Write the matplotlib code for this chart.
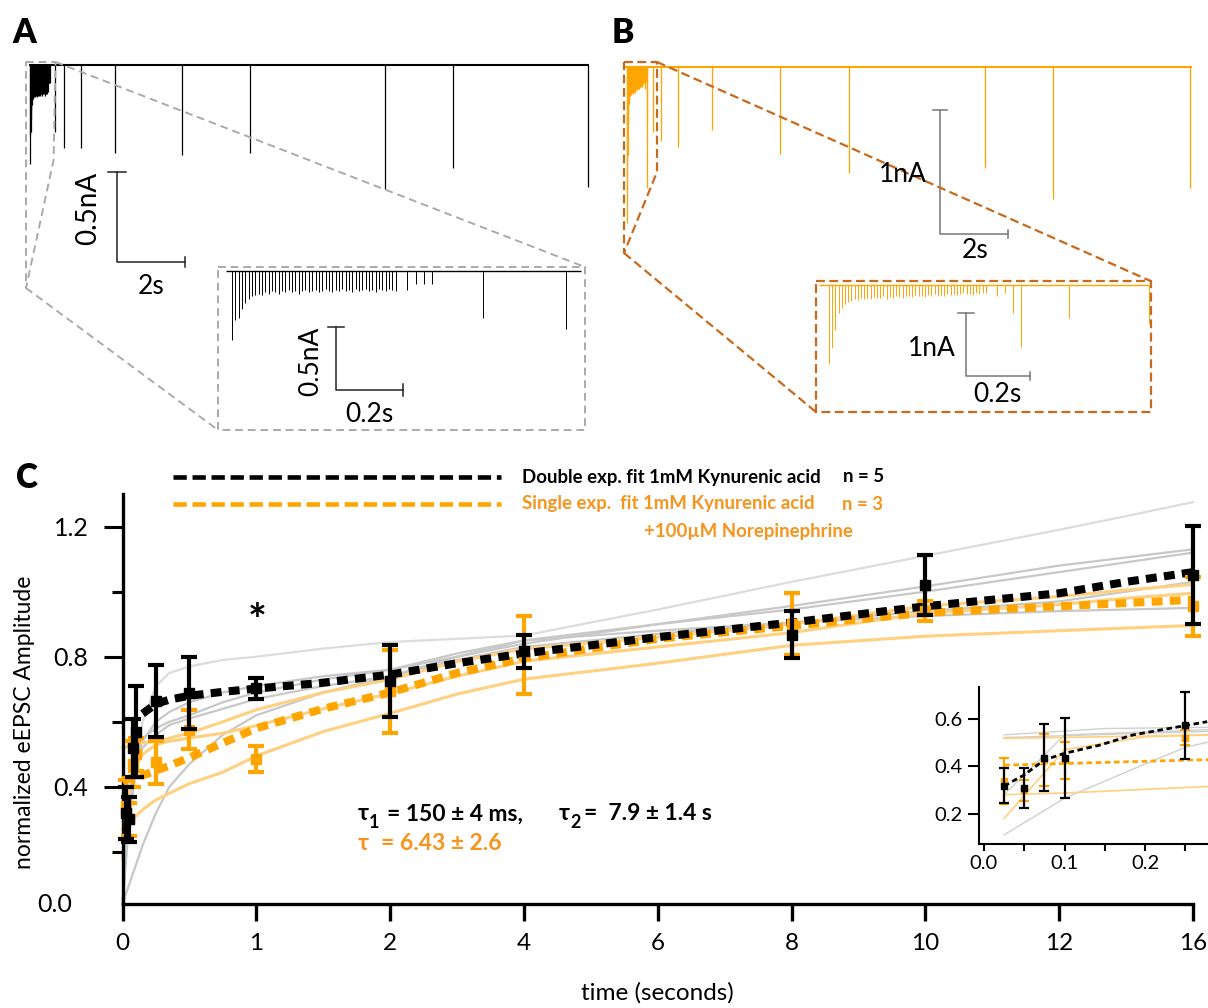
import numpy as np
import matplotlib
matplotlib.use('Agg')
import matplotlib.pyplot as plt
from matplotlib.lines import Line2D
from matplotlib.patches import Rectangle

plt.rcParams['font.family'] = ['Lato', 'DejaVu Sans']

# ---------------- data ----------------
TRAIN_HZ = 100
test_delay = [0.025, 0.05, 0.075, 0.1, 0.25, 0.5, 1, 2, 4, 6, 10, 12, 16]

# panel A, kynurenic acid (nA)
kyn_train_amp = [0.55, 0.39, 0.37, 0.30, 0.25, 0.22, 0.20, 0.19, 0.18, 0.19,
                 0.17, 0.18, 0.16, 0.17, 0.18, 0.16, 0.17, 0.15, 0.17, 0.16,
                 0.18, 0.16, 0.15, 0.17, 0.16, 0.15, 0.17, 0.16, 0.14, 0.16,
                 0.17, 0.15, 0.16, 0.14, 0.16, 0.15, 0.17, 0.14, 0.16, 0.15,
                 0.14, 0.16, 0.15, 0.17, 0.14, 0.15, 0.16, 0.14, 0.15, 0.16]
kyn_test_amp = [0.15, 0.10, 0.10, 0.10, 0.37, 0.46, 0.46, 0.49, 0.50, 0.49, 0.69, 0.57, 0.68]

# panel B, kynurenic acid + norepinephrine (nA)
ne_train_amp = [1.26, 1.00, 0.71, 0.45, 0.36, 0.30, 0.27, 0.25, 0.23, 0.24,
                0.21, 0.22, 0.20, 0.23, 0.19, 0.21, 0.20, 0.18, 0.22, 0.19,
                0.20, 0.17, 0.19, 0.21, 0.18, 0.17, 0.19, 0.16, 0.18, 0.17,
                0.19, 0.16, 0.18, 0.15, 0.17, 0.16, 0.18, 0.15, 0.16, 0.14,
                0.16, 0.15, 0.13, 0.15, 0.14, 0.16, 0.13, 0.14, 0.12, 0.13]
ne_test_amp = [0.18, 0.12, 0.45, 0.98, 0.53, 0.60, 0.65, 0.51, 0.70, 0.86, 0.82, 1.07, 0.98]

# panel C, recovery (normalized)
t_pts = [0.025, 0.05, 0.075, 0.1, 0.25, 0.5, 1, 2, 4, 8, 10, 16]
kyn_mean = [0.32, 0.30, 0.52, 0.57, 0.664, 0.689, 0.703, 0.725, 0.816, 0.868, 1.021, 1.052]
kyn_sem = [0.08, 0.07, 0.09, 0.14, 0.11, 0.11, 0.033, 0.11, 0.051, 0.072, 0.092, 0.15]
ne_mean = [0.33, 0.30, 0.47, 0.50, 0.475, 0.575, 0.485, 0.694, 0.805, 0.90, 0.94, 0.955]
ne_sem = [0.09, 0.05, 0.07, 0.05, 0.065, 0.06, 0.04, 0.128, 0.12, 0.096, 0.03, 0.09]

fit_t_kyn = [0.15, 0.25, 0.35, 0.5, 0.75, 1, 1.5, 2, 3, 4, 6, 8, 10, 12, 14, 16]
fit_kyn = [0.625, 0.655, 0.668, 0.68, 0.692, 0.702, 0.72, 0.745, 0.78, 0.81,
           0.86, 0.905, 0.955, 0.995, 1.03, 1.06]
fit_t_ne = [0, 0.1, 0.15, 0.25, 0.35, 0.5, 0.75, 1, 1.5, 2, 3, 4, 6, 8, 10, 12, 14, 16]
fit_ne = [0.42, 0.43, 0.435, 0.45, 0.465, 0.49, 0.535, 0.58, 0.64, 0.69, 0.75,
          0.795, 0.855, 0.895, 0.935, 0.955, 0.965, 0.975]

cell_t = [0, 0.05, 0.1, 0.15, 0.25, 0.35, 0.5, 0.75, 1, 1.5, 2, 3, 4, 6, 8, 10, 12, 14, 16]
kyn_cell1 = [0.04, 0.30, 0.48, 0.60, 0.71, 0.75, 0.77, 0.79, 0.80, 0.825, 0.845, 0.855, 0.865, 0.945, 1.03, 1.11, 1.19, 1.232, 1.275]
kyn_cell2 = [0.04, 0.35, 0.48, 0.54, 0.60, 0.63, 0.66, 0.69, 0.71, 0.74, 0.76, 0.80, 0.84, 0.90, 0.956, 1.016, 1.08, 1.105, 1.13]
kyn_cell3 = [0.04, 0.40, 0.50, 0.55, 0.58, 0.60, 0.62, 0.66, 0.69, 0.73, 0.76, 0.81, 0.85, 0.90, 0.945, 1.00, 1.06, 1.09, 1.12]
kyn_cell4 = [0.04, 0.30, 0.45, 0.52, 0.56, 0.59, 0.61, 0.64, 0.67, 0.71, 0.74, 0.79, 0.83, 0.87, 0.905, 0.94, 0.97, 1.0, 1.03]
kyn_cell5 = [0.04, 0.10, 0.16, 0.22, 0.32, 0.40, 0.47, 0.56, 0.62, 0.69, 0.74, 0.80, 0.85, 0.88, 0.905, 0.925, 0.94, 0.945, 0.95]
ne_cell1 = [0.52, 0.525, 0.53, 0.535, 0.54, 0.55, 0.565, 0.60, 0.637, 0.69, 0.73, 0.785, 0.824, 0.86, 0.90, 0.956, 0.985, 1.005, 1.022]
ne_cell2 = [0.18, 0.40, 0.47, 0.50, 0.53, 0.54, 0.55, 0.565, 0.588, 0.64, 0.687, 0.74, 0.786, 0.83, 0.874, 0.934, 0.96, 0.98, 0.995]
ne_cell3 = [0.27, 0.29, 0.31, 0.33, 0.36, 0.38, 0.41, 0.445, 0.495, 0.57, 0.626, 0.685, 0.731, 0.78, 0.835, 0.863, 0.88, 0.888, 0.896]

# inset of C (first 0.28 s)
ins_t = [0.025, 0.05, 0.075, 0.1, 0.25]
ins_kyn = [0.318, 0.308, 0.437, 0.435, 0.573]
ins_kyn_sem = [0.074, 0.083, 0.141, 0.17, 0.143]
ins_ne = [0.338, 0.298, 0.427, 0.425, 0.522]
ins_ne_sem = [0.096, 0.043, 0.11, 0.08, 0.032]
ins_fit_t_kyn = [0.025, 0.05, 0.075, 0.1, 0.144, 0.185, 0.249, 0.277]
ins_fit_kyn = [0.317, 0.364, 0.427, 0.455, 0.49, 0.533, 0.572, 0.589]
ins_fit_t_ne = [0.025, 0.1, 0.25, 0.28]
ins_fit_ne = [0.405, 0.412, 0.426, 0.428]
ins_gray = [([0.025, 0.15, 0.28], [0.533, 0.56, 0.565]),
            ([0.025, 0.28], [0.522, 0.548]),
            ([0.025, 0.1, 0.28], [0.28, 0.533, 0.555]),
            ([0.025, 0.1, 0.2, 0.25, 0.28], [0.11, 0.265, 0.41, 0.48, 0.504])]
ins_orange = [([0.025, 0.28], [0.518, 0.533]),
              ([0.025, 0.1, 0.2, 0.28], [0.18, 0.47, 0.525, 0.533]),
              ([0.025, 0.1, 0.28], [0.28, 0.287, 0.315])]

TICK_T = [0, 1, 2, 4, 6, 8, 10, 12, 16]

ORANGE = '#FFA500'
ORANGE_TXT = '#F7941D'
LIGHT_OR = '#FFD080'
GRAY = '#C8C8C8'
BROWN = '#C8691C'

W, H = 1208, 1008
fig = plt.figure(figsize=(W / 100, H / 100), dpi=100)


def px_axes(x0, y0, x1, y1, **kw):
    return fig.add_axes([x0 / W, 1 - y1 / H, (x1 - x0) / W, (y1 - y0) / H], **kw)


def trace_axes(box, t0_px, px_s, base_py, px_na):
    x0, y0, x1, y1 = box
    ax = px_axes(x0, y0, x1, y1)
    ax.set_xlim((x0 - t0_px) / px_s, (x1 - t0_px) / px_s)
    ax.set_ylim(-(y1 - base_py) / px_na, (base_py - y0) / px_na)
    ax.axis('off')
    return ax


def draw_trace(ax, train_amp, test_amp, t_start, t_end, color, lw_base, lw_spk):
    train_t = np.arange(len(train_amp)) / TRAIN_HZ
    test_t = len(train_amp) / TRAIN_HZ + np.asarray(test_delay)
    times = np.concatenate([train_t, test_t])
    amps = np.concatenate([train_amp, test_amp])
    keep = times <= t_end
    ax.hlines(0, t_start, t_end, color=color, lw=lw_base)
    ax.vlines(times[keep], -amps[keep], 0, color=color, lw=lw_spk)


def scale_bar(ax, t, y, dt, dy, cap_t, cap_y, color):
    ax.plot([t, t, t + dt], [y + dy, y, y], color=color, lw=1.1)
    ax.plot([t - cap_t, t + cap_t], [y + dy, y + dy], color=color, lw=1.1)
    ax.plot([t + dt, t + dt], [y - cap_y, y + cap_y], color=color, lw=1.1)


# ---------------- panel A ----------------
axA = trace_axes((20, 50, 600, 300), 30, 33.8, 65, 180)
draw_trace(axA, kyn_train_amp, kyn_test_amp, -0.04, 16.55, 'black', 1.5, 0.9)
scale_bar(axA, 2.574, -1.094, 2, 0.5, 0.28, 0.028, '#222222')

axAi = trace_axes((218, 267, 585, 430), 232, 334, 271, 126)
draw_trace(axAi, kyn_train_amp, kyn_test_amp, -0.018, 1.045, 'black', 1.0, 0.7)
scale_bar(axAi, 0.311, -0.944, 0.2, 0.5, 0.025, 0.045, '#222222')

# ---------------- panel B ----------------
axB = trace_axes((615, 50, 1200, 300), 627, 34.1, 66.7, 124)
draw_trace(axB, ne_train_amp, ne_test_amp, -0.088, 16.58, ORANGE, 1.5, 0.9)
scale_bar(axB, 9.18, -1.35, 2, 1.0, 0.2, 0.03, '#777777')

axBi = trace_axes((816, 281, 1150.5, 412), 829, 320, 285, 63)
draw_trace(axBi, ne_train_amp, ne_test_amp, -0.031, 1.0, ORANGE, 1.0, 0.7)
scale_bar(axBi, 0.427, -1.44, 0.2, 1.0, 0.025, 0.06, '#777777')

# ---------------- overlay (pixel coordinates) ----------------
ov = px_axes(0, 0, W, H, zorder=20)
ov.set_xlim(0, W)
ov.set_ylim(H, 0)
ov.axis('off')

ov.plot([26, 55.5, 53.6, 26, 26], [62, 62, 160, 288, 62], color='#AAAAAA', lw=1.4, ls=(0, (4, 2.5)))
ov.plot([55.5, 585], [62, 267], color='#AAAAAA', lw=1.4, ls=(0, (4, 2.5)))
ov.plot([26, 218], [288, 430], color='#AAAAAA', lw=1.4, ls=(0, (4, 2.5)))
ov.add_patch(Rectangle((218, 267), 367, 163, fill=False, ec='#AAAAAA', lw=1.4, ls=(0, (4, 2.5))))

ov.plot([624, 657, 657, 624, 624], [62, 62, 172, 253, 62], color=BROWN, lw=1.6, ls=(0, (4, 2)))
ov.plot([657, 1150.5], [62, 281], color=BROWN, lw=1.6, ls=(0, (4, 2)))
ov.plot([624, 816], [253, 412], color=BROWN, lw=1.6, ls=(0, (4, 2)))
ov.add_patch(Rectangle((816, 281), 334.5, 131, fill=False, ec=BROWN, lw=1.6, ls=(0, (4, 2))))

for lab, x, y in [('A', 24, 33), ('B', 623, 33), ('C', 27, 478)]:
    ov.text(x, y, lab, fontsize=24, fontweight='heavy', ha='center', va='center')

ov.text(88, 208, '0.5nA', fontsize=20, rotation=90, ha='center', va='center')
ov.text(151, 287, '2s', fontsize=19, ha='center', va='center')
ov.text(311, 361, '0.5nA', fontsize=19, rotation=90, ha='center', va='center')
ov.text(369, 414, '0.2s', fontsize=19, ha='center', va='center')
ov.text(903, 175, '1nA', fontsize=19, ha='center', va='center')
ov.text(975, 251, '2s', fontsize=19, ha='center', va='center')
ov.text(932, 348, '1nA', fontsize=19, ha='center', va='center')
ov.text(997, 395, '0.2s', fontsize=19, ha='center', va='center')

# legend of C
ov.add_line(Line2D([173, 501], [477, 477], color='black', lw=3.3, dashes=(2.9, 1.25)))
ov.add_line(Line2D([173, 501], [504, 504], color=ORANGE, lw=3.3, dashes=(2.9, 1.25)))
ov.text(522, 477, 'Double exp. fit 1mM Kynurenic acid', fontsize=13.4, fontweight='bold', va='center')
ov.text(843, 477, 'n = 5', fontsize=13.4, fontweight='bold', va='center')
ov.text(522, 504, 'Single exp.  fit 1mM Kynurenic acid', fontsize=13.4, fontweight='bold',
        va='center', color=ORANGE_TXT)
ov.text(842, 504, 'n = 3', fontsize=13.4, fontweight='bold', va='center', color=ORANGE_TXT)
ov.text(644, 531, '+100µM Norepinephrine', fontsize=13.4, fontweight='bold', va='center', color=ORANGE_TXT)

# time constants
ov.text(358, 814, 'τ', fontsize=16.5, fontweight='bold', va='center')
ov.text(369, 822, '1', fontsize=13, fontweight='bold', va='center')
ov.text(387, 814, '= 150 ± 4 ms,', fontsize=16.5, fontweight='bold', va='center')
ov.text(559, 814, 'τ', fontsize=16.5, fontweight='bold', va='center')
ov.text(570, 822, '2', fontsize=13, fontweight='bold', va='center')
ov.text(584, 814, '=  7.9 ± 1.4 s', fontsize=16.5, fontweight='bold', va='center')
ov.text(358, 843, 'τ', fontsize=16.5, fontweight='bold', va='center', color=ORANGE_TXT)
ov.text(381, 843, '= 6.43 ± 2.6', fontsize=16.5, fontweight='bold', va='center', color=ORANGE_TXT)
ov.text(257, 622, '*', fontsize=32, fontweight='bold', ha='center', va='center')


# ---------------- panel C ----------------
def fwd(t):
    t = np.asarray(t, float)
    u = np.interp(t, TICK_T, np.arange(len(TICK_T)))
    u = np.where(t < 0, t, u)
    return np.where(t > 16, 8 + (t - 16) / 4, u)


def inv(u):
    u = np.asarray(u, float)
    t = np.interp(u, np.arange(len(TICK_T)), TICK_T)
    t = np.where(u < 0, u, t)
    return np.where(u > 8, 16 + (u - 8) * 4, t)


axC = px_axes(122.5, 494, 1193, 904)
axC.set_xscale('function', functions=(fwd, inv))
axC.set_xlim(0, 16)
axC.set_ylim(0.04, 1.30)
axC.patch.set_alpha(0)
for s in ['top', 'right']:
    axC.spines[s].set_visible(False)
for s in ['left', 'bottom']:
    axC.spines[s].set_linewidth(2.4)
axC.set_xticks(TICK_T, [str(t) for t in TICK_T])
axC.set_yticks([0.4, 0.8, 1.2], ['0.4', '0.8', '1.2'])
axC.set_yticks([0.2, 0.6, 1.0], minor=True)
axC.tick_params(axis='x', length=12, width=2.4, labelsize=17.5, pad=9)
axC.tick_params(axis='y', which='major', length=13.5, width=2.2, labelsize=18, pad=11)
axC.tick_params(axis='y', which='minor', length=8, width=2.2)
axC.text(-0.047, 0.0, '0.0', transform=axC.transAxes, fontsize=18, ha='right', va='center')

for ys in [kyn_cell1, kyn_cell2, kyn_cell3, kyn_cell4, kyn_cell5]:
    c = '#DCDCDC' if ys is kyn_cell1 else GRAY
    axC.plot(cell_t, ys, color=c, lw=1.6, zorder=1, clip_on=False)
for ys in [ne_cell1, ne_cell2, ne_cell3]:
    axC.plot(cell_t, ys, color=LIGHT_OR, lw=2.2, zorder=1.5, clip_on=False)

axC.plot(fit_t_ne, fit_ne, color=ORANGE, lw=5.8, dashes=(1.35, 0.9), zorder=3, clip_on=False)
axC.plot(fit_t_kyn, fit_kyn, color='black', lw=5.8, dashes=(1.35, 0.9), zorder=4, clip_on=False)


def err(ax, x, y, e, color, z, lw, cap, ms):
    cont = ax.errorbar(x, y, yerr=e, fmt='s', color=color, ms=ms, elinewidth=lw,
                       capsize=cap, capthick=lw, zorder=z)
    for art in cont.get_children():
        art.set_clip_on(False)
        art.set_zorder(z)


err(axC, t_pts, ne_mean, ne_sem, ORANGE, 5, 3.0, 5.5, 6.5)
err(axC, t_pts, kyn_mean, kyn_sem, 'black', 6, 3.0, 5.5, 6.5)

axC.set_xlabel('time (seconds)', fontsize=17.5, labelpad=20)
fig.text(25 / W, 1 - 722 / H, 'normalized eEPSC Amplitude', fontsize=16.5, rotation=90,
         ha='center', va='center')

# ---------------- inset of C ----------------
axI = px_axes(979, 686.7, 1208, 844.3)
axI.set_xlim(-0.0062, 0.278)
axI.set_ylim(0.07, 0.737)
axI.patch.set_alpha(0)
for s in ['top', 'right']:
    axI.spines[s].set_visible(False)
for s in ['left', 'bottom']:
    axI.spines[s].set_linewidth(1.5)
axI.set_xticks([0.0, 0.1, 0.2], ['0.0', '0.1', '0.2'])
axI.set_xticks([0.05, 0.15, 0.25], minor=True)
axI.set_yticks([0.2, 0.4, 0.6], ['0.2', '0.4', '0.6'])
axI.tick_params(axis='x', which='both', length=5, width=1.5, labelsize=14.5, pad=3)
axI.tick_params(axis='y', length=8, width=1.5, labelsize=14.5, pad=4)

for xs, ys in ins_gray:
    axI.plot(xs, ys, color='#D0D0D0', lw=1.0, zorder=1)
for xs, ys in ins_orange:
    axI.plot(xs, ys, color=LIGHT_OR, lw=1.2, zorder=1.5)
axI.plot(ins_fit_t_ne, ins_fit_ne, color=ORANGE, lw=2.0, dashes=(2, 1.3), zorder=3)
axI.plot(ins_fit_t_kyn, ins_fit_kyn, color='black', lw=2.0, dashes=(2, 1.3), zorder=4)
err(axI, ins_t, ins_ne, ins_ne_sem, ORANGE, 5, 1.6, 3.5, 4)
err(axI, ins_t, ins_kyn, ins_kyn_sem, 'black', 6, 1.6, 3.5, 4)

fig.savefig('out.png', dpi=100)
